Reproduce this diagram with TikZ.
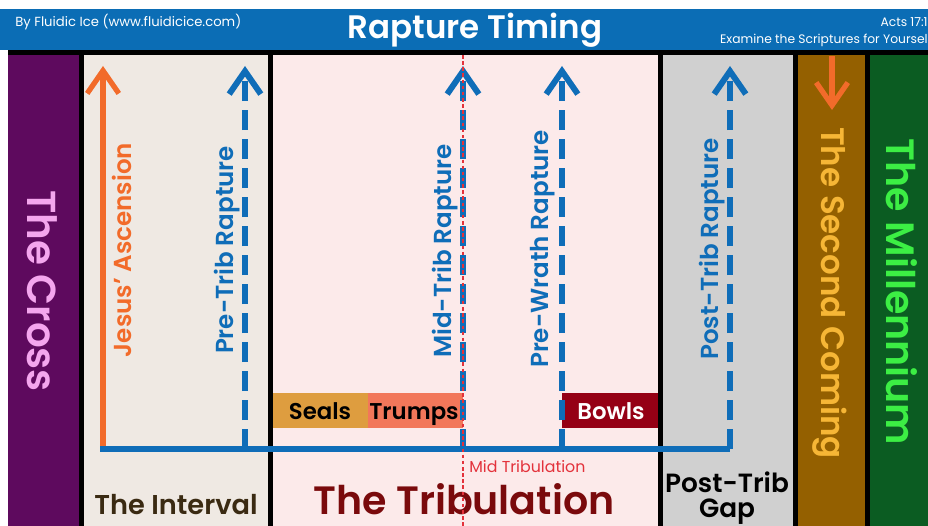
\documentclass[tikz,border=0pt]{standalone}
\usepackage{fontspec}
\setmainfont{Poppins}[BoldFont={Poppins SemiBold}]
\usetikzlibrary{arrows.meta}
\definecolor{hdr}{HTML}{0B6DB5}
\definecolor{crossbg}{HTML}{5E0A5E}
\definecolor{crosstx}{HTML}{F4A6EE}
\definecolor{intbg}{HTML}{EFE9E3}
\definecolor{tribbg}{HTML}{FCEAEA}
\definecolor{gapbg}{HTML}{D0D0D0}
\definecolor{secbg}{HTML}{946000}
\definecolor{sectx}{HTML}{F6B636}
\definecolor{milbg}{HTML}{0B5C22}
\definecolor{miltx}{HTML}{3CEE44}
\definecolor{bl}{HTML}{0F6DB8}
\definecolor{orng}{HTML}{F26B2A}
\definecolor{sealc}{HTML}{DE9D3F}
\definecolor{trumpc}{HTML}{F2775A}
\definecolor{bowlc}{HTML}{950015}
\definecolor{inttx}{HTML}{3A2A12}
\definecolor{tribtx}{HTML}{7A0A0C}
\definecolor{midred}{HTML}{E3323B}
\tikzset{
  chev/.tip={Straight Barb[length=13pt,width=18pt,line join=miter]},
  bluel/.style={draw=bl,line width=3.4pt},
  dasharrow/.style={draw=bl,line width=3.4pt,dash pattern=on 11.5pt off 5pt,-chev},
  oarrow/.style={draw=orng,line width=3pt,-chev},
  vlabel/.style={font=\bfseries\fontsize{14}{14}\selectfont,rotate=90,inner sep=0pt},
  bartx/.style={font=\bfseries\fontsize{13}{13}\selectfont,inner sep=0pt,anchor=base},
}
\begin{document}
\begin{tikzpicture}[x=0.02cm,y=-0.02cm]
\useasboundingbox (0,0) rectangle (928,526);
\fill[white] (0,0) rectangle (928,526);
% header
\fill[hdr] (0,9) rectangle (928,50);
\node[anchor=west,text=white,font=\fontsize{7.5}{7.5}\selectfont,inner sep=0pt] (by) at (15,22) {By Fluidic Ice (www.fluidicice.com)};
\node[text=white,font=\bfseries\fontsize{18.5}{18.5}\selectfont,inner sep=0pt] (title) at (475,30) {Rapture Timing};
\node[anchor=east,text=white,font=\fontsize{7}{7}\selectfont,inner sep=0pt] (acts) at (928,22) {Acts 17:1};
\node[anchor=east,text=white,font=\fontsize{7}{7}\selectfont,inner sep=0pt] (exam) at (928,40) {Examine the Scriptures for Yoursel};
% columns
\fill[black] (8,50) rectangle (928,526);
\fill[crossbg] (8,55) rectangle (79,526);
\fill[intbg] (84,55) rectangle (268,526);
\fill[tribbg] (273,55) rectangle (658,526);
\fill[gapbg] (663,55) rectangle (793,526);
\fill[secbg] (798,55) rectangle (865,526);
\fill[milbg] (870,55) rectangle (928,526);
% bars
\fill[sealc] (273,393) rectangle (368,428);
\fill[trumpc] (368,393) rectangle (463,428);
\fill[bowlc] (562,393) rectangle (658,428);
\node[bartx] (seals) at (320,419) {Seals};
\node[bartx] (trumps) at (414,419) {Trumps};
\node[bartx,text=white] (bowls) at (611,419) {Bowls};
% column titles
\node[rotate=-90,text=crosstx,font=\bfseries\fontsize{23}{23}\selectfont,inner sep=0pt] (cross) at (42,291) {The Cross};
\node[rotate=-90,text=sectx,font=\bfseries\fontsize{18.5}{18.5}\selectfont,inner sep=0pt] (second) at (830,293) {The Second Coming};
\node[rotate=-90,text=miltx,font=\bfseries\fontsize{22.5}{22.5}\selectfont,inner sep=0pt] (mill) at (902,292) {The Millennium};
\node[anchor=base,text=inttx,font=\bfseries\fontsize{15.5}{15.5}\selectfont,inner sep=0pt] (interval) at (176,514) {The Interval};
\node[anchor=base,text=tribtx,font=\bfseries\fontsize{22.5}{22.5}\selectfont,inner sep=0pt] (trib) at (464,514) {The Tribulation};
\node[anchor=north,text=black,font=\bfseries\fontsize{15}{14.5}\selectfont,inner sep=0pt,align=center] (gap) at (727,471) {Post-Trib\\Gap};
\node[anchor=base west,text=midred,font=\fontsize{9}{9}\selectfont,inner sep=0pt] (midlbl) at (469,472) {Mid Tribulation};
% arrow labels
\node[vlabel,text=orng] (ascl) at (122,250) {Jesus’ Ascension};
\node[vlabel,text=bl] (prel) at (227,250) {Pre-Trib Rapture};
\node[vlabel,text=bl] (midl) at (445,251) {Mid-Trib Rapture};
\node[vlabel,text=bl] (pwl) at (543,249) {Pre-Wrath Rapture};
\node[vlabel,text=bl] (postl) at (712,249) {Post-Trib Rapture};
% coordinates
\coordinate (asc0) at (103,449);
\coordinate (asc1) at (103,66);
\coordinate (hl0) at (100,449);
\coordinate (corner) at (730,449);
\coordinate (pre0) at (245,449);
\coordinate (pre1) at (245,66);
\coordinate (mid0) at (463,449);
\coordinate (mid1) at (463,66);
\coordinate (pw0) at (562,449);
\coordinate (pw1) at (562,66);
\coordinate (post1) at (730,66);
\coordinate (sc0) at (832,56);
\coordinate (sc1) at (832,110);
\coordinate (mt0) at (463,55);
\coordinate (mt1) at (463,526);
% arrows
\draw[oarrow] (asc0) -- (asc1);
\draw[bluel] (hl0) -- (corner);
\draw[dasharrow] (pre0) -- (pre1);
\draw[dasharrow] (mid0) -- (mid1);
\draw[dasharrow] (pw0) -- (pw1);
\draw[dasharrow] (corner) -- (post1);
\draw[oarrow] (sc0) -- (sc1);
\draw[midred,line width=0.6pt,dash pattern=on 2pt off 1.5pt] (mt0) -- (mt1);
\end{tikzpicture}
\end{document}
